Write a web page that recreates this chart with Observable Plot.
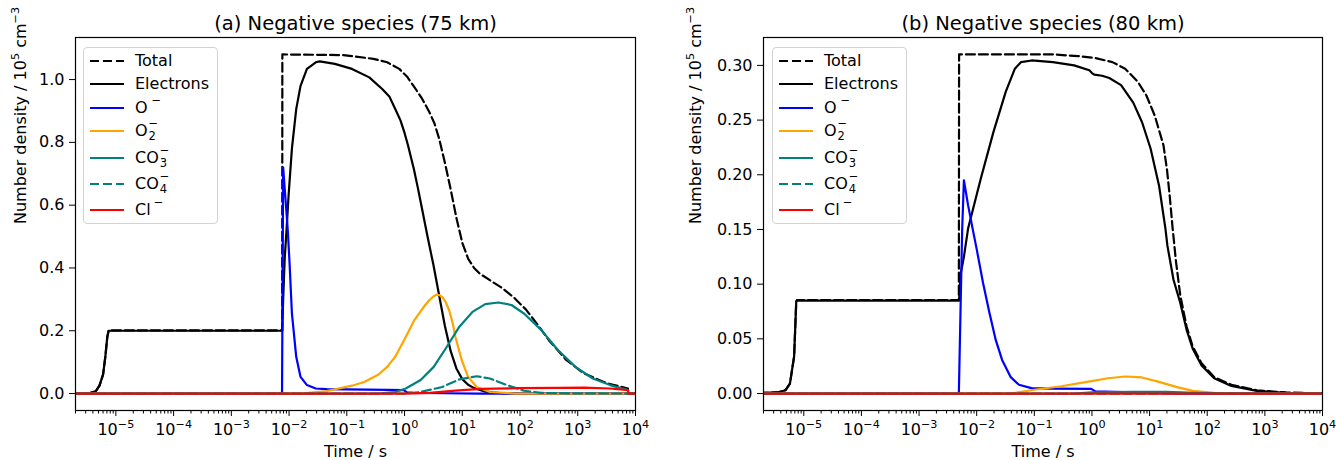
<!DOCTYPE html>
<html><head><meta charset="utf-8">
<script src="https://cdn.jsdelivr.net/npm/d3@7"></script>
<script src="https://cdn.jsdelivr.net/npm/@observablehq/plot@0.6"></script>
<style>
body{margin:0;background:#fff;font-family:"DejaVu Sans",sans-serif;}
#wrap{position:relative;width:1336px;height:460px;overflow:hidden;background:#fff;}
.panel{position:absolute;top:0;width:668px;height:460px;}
.legend{position:absolute;top:47px;width:133px;height:175px;border:1px solid #d3d3d3;border-radius:4px;background:rgba(255,255,255,0.85);font-size:16px;color:#000;}
.entry{position:absolute;left:0;height:20px;width:130px;}
.entry svg{position:absolute;left:5px;top:0;}
.entry .lab{position:absolute;left:51px;top:0;line-height:20px;white-space:nowrap;}
.ss{position:relative;display:inline-block;width:10px;height:10px;}
.sp{position:absolute;left:1px;top:-8px;font-size:11.5px;line-height:1;}
.sb{position:absolute;left:1px;top:5px;font-size:11.5px;line-height:1;}
</style>
</head><body>
<div id="wrap"></div>
<script>
// ---------- axis ticks ----------
const xTicks = [1e-5, 1e-4, 1e-3, 1e-2, 1e-1, 1e0, 1e1, 1e2, 1e3, 1e4];
const xTickLabels = ["10^−5","10^−4","10^−3","10^−2","10^−1","10^0","10^1","10^2","10^3","10^4"];
const aYTicks = [0, 0.2, 0.4, 0.6, 0.8, 1.0];
const bYTicks = [0, 0.05, 0.10, 0.15, 0.20, 0.25, 0.30];

// ---------- series meta ----------
const seriesNames = ["Total","Electrons","O−","O₂−","CO₃−","CO₄−","Cl−"];
const seriesColors = ["#000000","#000000","#0000ff","#ffa500","#008080","#008080","#ff0000"];
const seriesDashed = [true,false,false,false,false,true,false];

// ---------- panel (a): 75 km  [time s, density 1e5 cm^-3] ----------
const aTotal = [[1e-6,0],[3.5e-6,0.001],[4.5e-6,0.008],[5.2e-6,0.025],[6.0e-6,0.06],[6.6e-6,0.12],[7.1e-6,0.18],[7.5e-6,0.201],
 [7.6e-3,0.201],[7.65e-3,1.08],[0.087,1.078],[0.29,1.066],[0.5,1.055],[0.81,1.034],[1.1,1.01],[1.48,0.976],[2.0,0.94],[2.7,0.896],
 [3.3,0.86],[4.0,0.81],[5.0,0.735],[6.3,0.65],[7.9,0.56],[10,0.48],[12.6,0.43],[16,0.4],[20,0.382],[32,0.358],[50,0.335],
 [79,0.305],[126,0.268],[200,0.22],[316,0.17],[631,0.107],[1260,0.065],[3160,0.033],[7400,0.016],[7500,0],[1e4,0]];
const aElectrons = [[1e-6,0],[3.5e-6,0.001],[4.5e-6,0.008],[5.2e-6,0.025],[6.0e-6,0.06],[6.6e-6,0.12],[7.1e-6,0.18],[7.5e-6,0.2],
 [7.6e-3,0.2],[7.9e-3,0.3],[8.4e-3,0.43],[9.1e-3,0.53],[9.8e-3,0.63],[1.12e-2,0.78],[1.33e-2,0.906],[1.58e-2,0.98],[2.04e-2,1.034],
 [2.9e-2,1.055],[3.4e-2,1.058],[6.2e-2,1.05],[0.123,1.034],[0.245,1.007],[0.41,0.97],[0.55,0.945],[0.69,0.906],[0.85,0.87],
 [1.0,0.83],[1.15,0.79],[1.3,0.75],[1.45,0.715],[1.7,0.655],[2.0,0.59],[2.5,0.5],[3.16,0.41],[4.0,0.31],[5.0,0.215],[6.3,0.135],
 [7.9,0.08],[10,0.046],[12.6,0.028],[15.8,0.018],[25,0.006],[50,0.001],[100,0],[1e4,0]];
const aOm = [[1e-6,0],[7.55e-3,0],[7.9e-3,0.72],[9.5e-3,0.52],[1.02e-2,0.415],[1.12e-2,0.255],[1.33e-2,0.117],[1.58e-2,0.053],
 [2.04e-2,0.027],[2.9e-2,0.016],[4.5e-2,0.014],[0.1,0.013],[0.5,0.012],[0.97,0.011],[1.1,0.004],[1.4,0.002],[5,0.001],[20,0],[1e4,0]];
const aO2m = [[1e-6,0],[1.6e-2,0],[4.5e-2,0.008],[0.123,0.025],[0.2,0.037],[0.35,0.06],[0.5,0.085],[0.69,0.117],[1.05,0.18],
 [1.48,0.234],[2.28,0.282],[2.7,0.298],[3.2,0.31],[3.6,0.315],[4.1,0.313],[4.5,0.307],[5.2,0.29],[5.9,0.266],[6.8,0.225],
 [7.6,0.18],[9.8,0.106],[12.6,0.053],[17.8,0.021],[30,0.005],[83,0],[1e4,0]];
const aCO3m = [[1e-6,0],[0.35,0],[0.69,0.005],[1.05,0.016],[1.9,0.043],[3.2,0.085],[5.4,0.149],[8.9,0.213],[15,0.26],[25,0.285],
 [42,0.29],[71,0.282],[117,0.255],[234,0.202],[457,0.138],[912,0.085],[1820,0.048],[3630,0.027],[7400,0.011],[7500,0],[1e4,0]];
const aCO4m = [[1e-6,0],[1,0],[1.9,0.005],[4.5,0.021],[8.9,0.045],[17.8,0.055],[30,0.048],[59,0.027],[117,0.009],[234,0.002],
 [1000,0.0005],[7400,0],[1e4,0]];
const aClm = [[1e-6,0],[1,0],[2.7,0.002],[7.6,0.009],[21,0.015],[83,0.017],[457,0.018],[1290,0.019],[3630,0.016],[7400,0.011],
 [7500,0],[1e4,0]];

// ---------- panel (b): 80 km ----------
const bTotal = [[1e-6,0],[3.5e-6,0.001],[4.8e-6,0.003],[5.75e-6,0.009],[6.8e-6,0.034],[7.4e-6,0.084],[7.6e-6,0.0855],
 [4.9e-3,0.0855],[4.95e-3,0.31],[0.21,0.31],[0.58,0.3085],[1.15,0.3067],[2.26,0.303],[3.76,0.297],[6.25,0.285],[8.8,0.2725],
 [12.3,0.254],[17.4,0.227],[20,0.205],[22.4,0.18],[25,0.152],[28.8,0.12],[34,0.09],[44,0.061],[56,0.043],[79,0.028],[132,0.015],
 [263,0.008],[724,0.003],[2340,0.001],[1e4,0]];
const bElectrons = [[1e-6,0],[3.5e-6,0.001],[4.8e-6,0.003],[5.75e-6,0.009],[6.8e-6,0.034],[7.4e-6,0.084],[7.6e-6,0.085],
 [4.95e-3,0.085],[5.3e-3,0.11],[6.0e-3,0.125],[7.1e-3,0.151],[1.17e-2,0.196],[1.95e-2,0.239],[3.2e-2,0.276],[4.6e-2,0.297],
 [5.9e-2,0.303],[9.0e-2,0.3045],[0.21,0.303],[0.49,0.3],[0.9,0.2955],[1.0,0.293],[1.1,0.2915],[1.5,0.2905],[2.0,0.2885],
 [3.2,0.282],[5.2,0.266],[7.4,0.248],[10.4,0.224],[14.6,0.19],[18.8,0.151],[20.4,0.135],[26,0.104],[34,0.083],[44,0.058],
 [56,0.041],[79,0.026],[132,0.014],[263,0.007],[724,0.0025],[2340,0.0006],[1e4,0]];
const bOm = [[1e-6,0],[4.9e-3,0],[5.6e-3,0.15],[6.0e-3,0.195],[7.1e-3,0.172],[8.7e-3,0.148],[1.0e-2,0.132],[1.29e-2,0.101],
 [1.66e-2,0.074],[2.14e-2,0.049],[2.75e-2,0.031],[3.9e-2,0.015],[5.4e-2,0.008],[8.9e-2,0.005],[0.2,0.0045],[0.97,0.0043],
 [1.15,0.002],[5,0.001],[34,0],[1e4,0]];
const bO2m = [[1e-6,0],[3.9e-2,0],[0.107,0.0037],[0.295,0.0067],[0.82,0.0107],[1.9,0.014],[3.76,0.0156],[7.4,0.0147],
 [14.6,0.0107],[28.8,0.0061],[56,0.0025],[132,0.0006],[400,0],[1e4,0]];
const bCO3m = [[1e-6,0],[0.5,0],[1,0.001],[5,0.0015],[20,0.0015],[60,0.0007],[200,0.0002],[1e4,0]];
const bCO4m = [[1e-6,0],[1e4,0]];
const bClm = [[1e-6,0],[1e4,0]];

const yLabel = "Number density / 10^5 cm^−3";
const legendHtml = [
  "Total", "Electrons",
  "O<span class='ss' style='width:12px'><span class='sp' style='left:4px'>−</span></span>",
  "O<span class='ss'><span class='sp'>−</span><span class='sb'>2</span></span>",
  "CO<span class='ss'><span class='sp'>−</span><span class='sb'>3</span></span>",
  "CO<span class='ss'><span class='sp'>−</span><span class='sb'>4</span></span>",
  "Cl<span class='ss' style='width:12px'><span class='sp' style='left:3px'>−</span></span>"
];
const legendRowTop = [3, 26, 50, 73, 100, 126, 152];

function minorTicks() {
  const out = [];
  for (let e = -6; e < 4; e++) for (let k = 2; k <= 9; k++) {
    const v = +(k + "e" + e);
    if (v >= 2e-6 && v <= 1e4) out.push(v);
  }
  return out;
}

// turn "a^b c" markers into real superscript tspans
function supify(svg, baseSize) {
  const NS = "http://www.w3.org/2000/svg";
  const shift = Math.round(baseSize * 0.42);
  svg.querySelectorAll("text").forEach(t => {
    const s = t.textContent;
    if (!s.includes("^")) return;
    const tokens = s.split(/(\^\S+)/).filter(x => x.length);
    while (t.firstChild) t.removeChild(t.firstChild);
    let raised = false;
    tokens.forEach(tok => {
      const ts = document.createElementNS(NS, "tspan");
      if (tok[0] === "^") {
        ts.textContent = tok.slice(1);
        ts.setAttribute("font-size", (baseSize * 0.7).toFixed(1));
        ts.setAttribute("dy", -shift);
        raised = true;
      } else {
        ts.textContent = tok;
        if (raised) { ts.setAttribute("dy", shift); raised = false; }
      }
      t.appendChild(ts);
    });
  });
}

function makePanel(series, yDomain, yTicks, yFmt, title, mL, mR, yLabelDx) {
  const svg = Plot.plot({
    width: 668, height: 460, marginLeft: mL, marginRight: mR, marginTop: 37, marginBottom: 50,
    style: {fontFamily: '"DejaVu Sans", sans-serif', fontSize: "16px", background: "white", color: "black", overflow: "visible"},
    x: {type: "log", domain: [2e-6, 1e4]},
    y: {domain: yDomain},
    marks: [
      ...series.map((d, i) => Plot.line(d, {
        x: p => p[0], y: p => p[1], stroke: seriesColors[i], strokeWidth: 2.2,
        ...(seriesDashed[i] ? {strokeDasharray: "9,4"} : {}), clip: true
      })),
      Plot.frame({stroke: "black", strokeWidth: 1.2}),
      Plot.axisX(minorTicks(), {tickSize: 3.5, tickFormat: () => "", label: null}),
      Plot.axisX(xTicks, {tickSize: 6, tickPadding: 7, tickFormat: d => xTickLabels[xTicks.indexOf(d)], label: null}),
      Plot.axisY(yTicks, {tickSize: 6, tickPadding: 5, tickFormat: yFmt, label: null}),
      Plot.text([title], {text: d => d, frameAnchor: "top", lineAnchor: "middle", dy: -14, fontSize: 19.5}),
      Plot.text(["Time / s"], {text: d => d, frameAnchor: "bottom", lineAnchor: "middle", dy: 41, fontSize: 16}),
      Plot.text([yLabel], {text: d => d, frameAnchor: "left", lineAnchor: "middle", dx: yLabelDx, rotate: -90, fontSize: 16})
    ]
  });
  supify(svg, 16);
  return svg;
}

function makeLegend(left) {
  const lg = document.createElement("div");
  lg.className = "legend";
  lg.style.left = left + "px";
  legendHtml.forEach((h, i) => {
    const e = document.createElement("div");
    e.className = "entry";
    e.style.top = legendRowTop[i] + "px";
    const dash = seriesDashed[i] ? "stroke-dasharray='9,4'" : "";
    e.innerHTML = `<svg width="36" height="20"><line x1="1" x2="35" y1="10" y2="10" stroke="${seriesColors[i]}" stroke-width="2.2" ${dash}/></svg><span class="lab">${h}</span>`;
    lg.appendChild(e);
  });
  return lg;
}

const wrap = document.getElementById("wrap");
const pa = document.createElement("div"); pa.className = "panel"; pa.style.left = "0px";
const pb = document.createElement("div"); pb.className = "panel"; pb.style.left = "668px";
pa.appendChild(makePanel([aTotal, aElectrons, aOm, aO2m, aCO3m, aCO4m, aClm], [-0.054, 1.134], aYTicks, d3.format(".1f"),
  "(a) Negative species (75 km)", 75, 33, -55));
pb.appendChild(makePanel([bTotal, bElectrons, bOm, bO2m, bCO3m, bCO4m, bClm], [-0.0155, 0.3255], bYTicks, d3.format(".2f"),
  "(b) Negative species (80 km)", 95, 14, -68));
pa.appendChild(makeLegend(83));
pb.appendChild(makeLegend(104));
wrap.appendChild(pa); wrap.appendChild(pb);
</script>
</body></html>
